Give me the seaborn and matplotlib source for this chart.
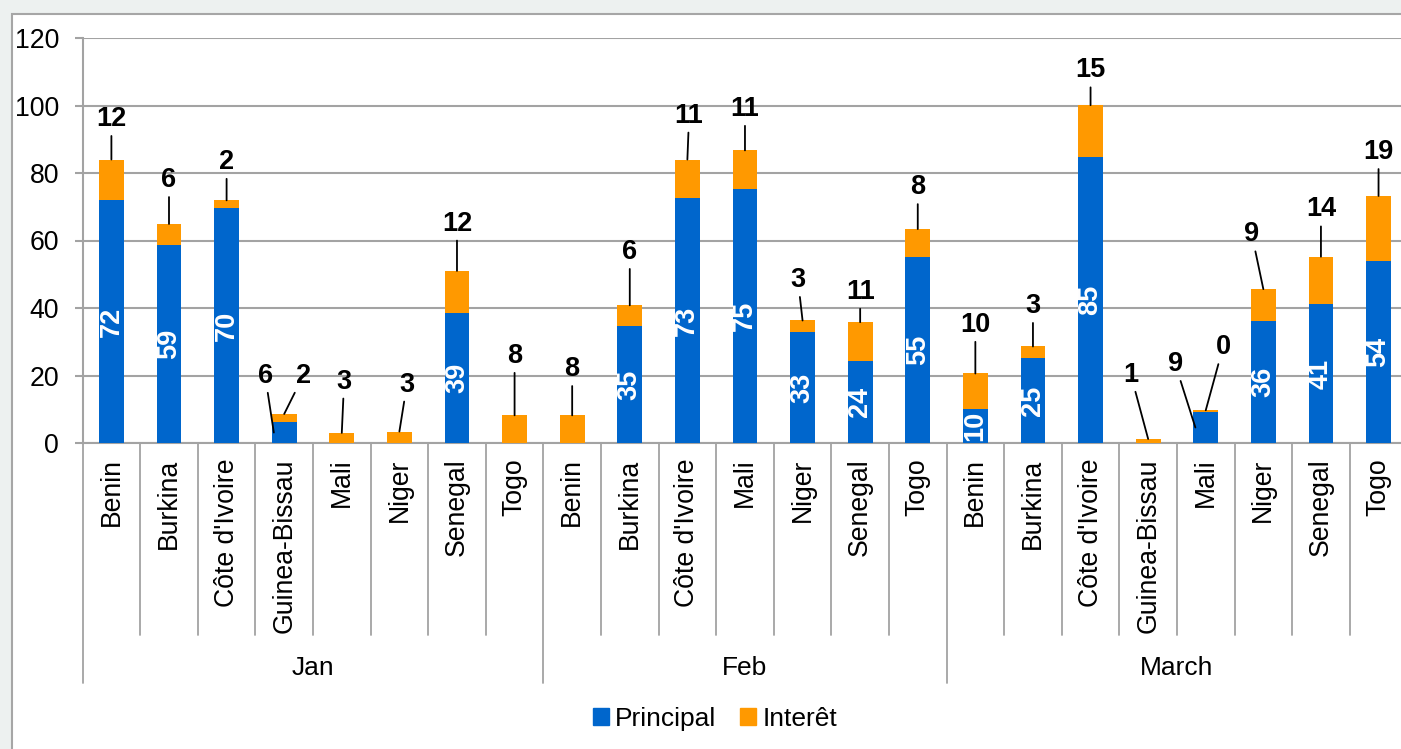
import numpy as np
import pandas as pd
import seaborn as sns
import matplotlib.pyplot as plt
from matplotlib.patches import Patch, Rectangle

# data
months = ["Jan", "Feb", "March"]
countries_jan = ["Benin", "Burkina", "Côte d'Ivoire", "Guinea-Bissau", "Mali", "Niger", "Senegal", "Togo"]
countries_feb = ["Benin", "Burkina", "Côte d'Ivoire", "Mali", "Niger", "Senegal", "Togo"]
countries_mar = ["Benin", "Burkina", "Côte d'Ivoire", "Guinea-Bissau", "Mali", "Niger", "Senegal", "Togo"]

principal_jan = [72.0, 58.6, 69.7, 6.2, 0, 0, 38.6, 0]
principal_feb = [0, 34.6, 72.6, 75.3, 32.9, 24.4, 55.0]
principal_mar = [10.2, 25.2, 84.7, 0, 9.2, 36.2, 41.2, 53.8]

interet_jan = [12.0, 6.3, 2.2, 2.4, 3.0, 3.4, 12.4, 8.2]
interet_feb = [8.2, 6.2, 11.4, 11.4, 3.4, 11.4, 8.4]
interet_mar = [10.4, 3.4, 15.4, 1.2, 0.49, 9.4, 14.0, 19.4]

BLUE = "#0066CC"
ORANGE = "#FF9900"
GRID = "#a3a3a3"

# label nudges (layout only): x shift in category units, y above bar top in data units
lbl_dx = [0, 0, 0, 0.33, 0.04, 0.13, 0, 0,
          0, 0, 0.03, 0, -0.08, 0, 0,
          0, 0, 0, -0.3, 0.3, -0.2, 0, 0]
lbl_dy = [12, 13, 11.4, 11.3, 15.2, 13.9, 14, 17.6,
          13.7, 15.8, 13, 12.3, 12, 9, 12.4,
          14.4, 12, 10.3, 19, 18.7, 16.2, 14, 13]
# small principal values labelled outside the bar: index -> (dx, y)
outside = {3: (-0.33, 19.9), 19: (-0.53, 23.4)}

countries = countries_jan + countries_feb + countries_mar
principal = np.array(principal_jan + principal_feb + principal_mar)
interet = np.array(interet_jan + interet_feb + interet_mar)
group_sizes = [len(countries_jan), len(countries_feb), len(countries_mar)]

df = pd.DataFrame({"idx": np.arange(len(countries)), "country": countries,
                   "principal": principal, "total": principal + interet})

sns.set_style("white")
plt.rcParams["font.family"] = ["Liberation Sans", "DejaVu Sans"]
plt.rcParams["text.color"] = "black"
plt.rcParams["xtick.color"] = "black"
plt.rcParams["ytick.color"] = "black"

fig = plt.figure(figsize=(14.01, 7.49), dpi=100, facecolor="#edf1f0")
fig.patches.append(Rectangle((12 / 1401, -0.01), 1.0, (749 - 14) / 749 + 0.01,
                             transform=fig.transFigure, facecolor="white",
                             edgecolor="#a6a6a6", lw=1.5, zorder=-1))
ax = fig.add_axes([82.6 / 1401, 306 / 749, (1401 - 82.6) / 1401, 405 / 749])
ax.set_facecolor("white")

sns.barplot(data=df, x="idx", y="total", color=ORANGE, saturation=1, width=0.43,
            linewidth=0, ax=ax, zorder=3)
sns.barplot(data=df, x="idx", y="principal", color=BLUE, saturation=1, width=0.43,
            linewidth=0, ax=ax, zorder=3)

ax.set_xlim(-0.5, 22.39)
ax.set_ylim(0, 120)
ax.set_yticks(range(0, 121, 20))
ax.yaxis.grid(True, color=GRID, lw=1.5, zorder=0)
ax.set_axisbelow(True)
for s in ["top", "right"]:
    ax.spines[s].set_visible(False)
for s in ["left", "bottom"]:
    ax.spines[s].set_color(GRID)
    ax.spines[s].set_linewidth(1.5)
ax.tick_params(axis="y", length=6, width=1.5, color=GRID, labelcolor="black",
               labelsize=19.2, pad=11, left=True)
ax.tick_params(axis="x", length=0, labelsize=19.2, labelcolor="black", pad=11)
ax.set_xticks(range(len(countries)))
ax.set_xticklabels(countries, rotation=90, va="top")
ax.set_xlabel("")
ax.set_ylabel("")

# category separators and month separators below the axis
xtr = ax.get_xaxis_transform()
bounds = np.cumsum([0] + group_sizes) - 0.5
for b in np.arange(len(countries) + 1) - 0.5:
    low = -0.593 if b in bounds else -0.474
    ax.plot([b, b], [0, low], transform=xtr, color=GRID, lw=1.3, clip_on=False)
for m, lo, hi in zip(months, bounds[:-1], bounds[1:]):
    ax.text((lo + hi) / 2, -0.556, m, transform=xtr, ha="center", va="center", fontsize=19)

# value labels
for i, (p, it) in enumerate(zip(principal, interet)):
    top = p + it
    ax.annotate(f"{it:.0f}", xy=(i, top), xytext=(i + lbl_dx[i], top + lbl_dy[i]),
                ha="center", va="center", fontsize=19.5, fontweight="bold",
                arrowprops=dict(arrowstyle="-", color="black", lw=1.3, shrinkA=0.5, shrinkB=0),
                zorder=5)
    if p <= 0:
        continue
    if i in outside:
        dx, y = outside[i]
        ax.annotate(f"{p:.0f}", xy=(i - 0.18, p / 2), xytext=(i + dx, y),
                    ha="center", va="center", fontsize=19.5, fontweight="bold",
                    arrowprops=dict(arrowstyle="-", color="black", lw=1.3, shrinkA=0.5, shrinkB=0),
                    zorder=5)
    else:
        ax.text(i, p / 2, f"{p:.0f}", rotation=90, color="white", ha="center", va="center",
                fontsize=19.5, fontweight="bold", zorder=5)

fig.legend(handles=[Patch(color=BLUE, label="Principal"), Patch(color=ORANGE, label="Interêt")],
           loc="center", bbox_to_anchor=(715 / 1401, 1 - 719 / 749), ncol=2, frameon=False,
           fontsize=19, handlelength=0.6, handleheight=0.6, handletextpad=0.25,
           columnspacing=0.9)

fig.savefig("out.png", dpi=100, facecolor=fig.get_facecolor())
